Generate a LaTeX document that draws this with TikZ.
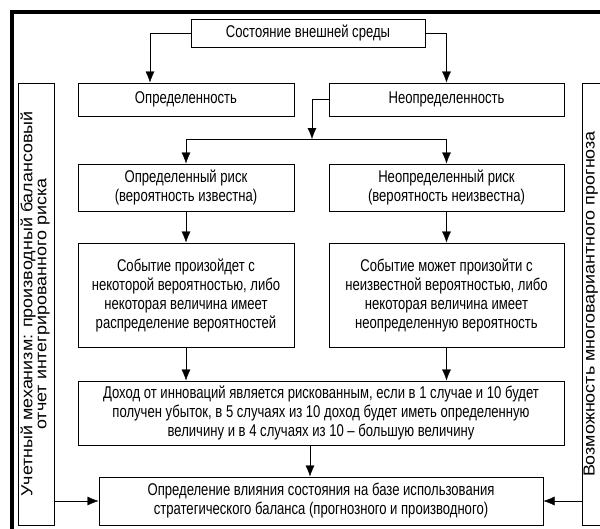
\documentclass[tikz,border=0pt]{standalone}
\usepackage{fontspec}
\setmainfont[FakeStretch=0.77]{Liberation Sans}
\newfontfamily\sidefont[FakeStretch=1.12]{Liberation Sans}
\usetikzlibrary{arrows.meta}

\begin{document}
\begin{tikzpicture}[x=1pt,y=-1pt,
    box/.style={draw,line width=1pt,align=center,inner sep=0pt,
      font=\fontsize{17}{19}\selectfont},
    sidebox/.style={draw,line width=1pt,minimum width=36pt,minimum height=442pt},
    >={Latex[length=11pt,width=9pt]}]
  \useasboundingbox (0,0) rectangle (600,528);
  \clip (0,0) rectangle (600,528);
  \def\lx{186}  % left column
  \def\rx{446.5}% right column
  % frame
  \draw[line width=4pt] (12,540) -- (12,12) -- (610,12);
  % boxes
  \node[box,minimum width=234pt,minimum height=28pt] (sreda) at (308,33) {Состояние внешней среды};
  \node[box,minimum width=216pt,minimum height=33pt] (opr) at (\lx,99.5) {Определенность};
  \node[box,minimum width=235pt,minimum height=33pt] (neopr) at (\rx,99.5) {Неопределенность};
  \node[box,minimum width=216pt,minimum height=47pt] (riskA) at (\lx,187.5) {Определенный риск\\(вероятность известна)};
  \node[box,minimum width=235pt,minimum height=47pt] (riskB) at (\rx,187.5) {Неопределенный риск\\(вероятность неизвестна)};
  \node[box,minimum width=216pt,minimum height=104pt] (sobA) at (\lx,295) {Событие произойдет с\\некоторой вероятностью, либо\\некоторая величина имеет\\распределение вероятностей};
  \node[box,minimum width=235pt,minimum height=104pt] (sobB) at (\rx,295) {Событие может произойти с\\неизвестной вероятностью, либо\\некоторая величина имеет\\неопределенную вероятность};
  \node[box,minimum width=486pt,minimum height=64pt] (dohod) at (321,413) {Доход от инноваций является рискованным, если в 1 случае и 10 будет\\получен убыток, в 5 случаях из 10 доход будет иметь определенную\\величину и в 4 случаях из 10 -- большую величину};
  \node[box,minimum width=444pt,minimum height=48pt] (vliyanie) at (321,501) {Определение влияния состояния на базе использования\\стратегического баланса (прогнозного и производного)};
  \node[sidebox,align=center,inner sep=0pt] (uchet) at (36,304)
    {\rotatebox{90}{\sidefont\fontsize{16}{17}\selectfont
      \begin{tabular}{@{}c@{}}Учетный механизм: производный балансовый\\[-3pt]отчет интегрированного риска\end{tabular}}};
  \node[sidebox,label={[rotate=90,anchor=north,inner sep=2pt,font=\sidefont\fontsize{16}{17}\selectfont]west:Возможность многовариантного прогноза}] (prognoz) at (600,304) {};
  % arrows
  \coordinate (bus) at (312,139);
  \draw[->] (sreda.west) -| ([xshift=-36pt]opr.north);
  \draw[->] (sreda.east) -| (neopr.north);
  \draw[->] (neopr.west) -| (bus);
  \draw[->] (bus) -| (riskA.north);
  \draw[->] (bus) -| (riskB.north);
  \draw[->] (riskA) -- (sobA);
  \draw[->] (riskB) -- (sobB);
  \draw[->] (sobA.south) -- (sobA.south |- dohod.north);
  \draw[->] (sobB.south) -- (sobB.south |- dohod.north);
  \draw[->] ([xshift=-11pt]dohod.south) -- ([xshift=-11pt]vliyanie.north);
  \draw[->] (uchet.east |- vliyanie.west) -- (vliyanie.west);
  \draw[->] (prognoz.west |- vliyanie.east) -- (vliyanie.east);
\end{tikzpicture}
\end{document}
